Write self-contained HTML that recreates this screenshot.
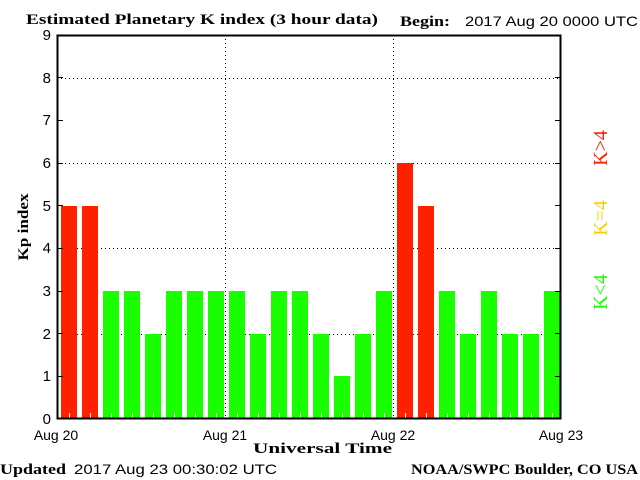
<!DOCTYPE html><html><head><style>body{margin:0;background:#fff}</style></head><body>
<svg width="640" height="480" xmlns="http://www.w3.org/2000/svg" style="display:block">
<rect width="640" height="480" fill="#fff"/>
<g stroke="#000" stroke-dasharray="1,3" stroke-width="1">
<line x1="57" x2="560" y1="78.5" y2="78.5"/><line x1="57" x2="560" y1="163.5" y2="163.5"/><line x1="57" x2="560" y1="248.5" y2="248.5"/><line x1="57" x2="560" y1="334.5" y2="334.5"/>
<line x1="225.5" x2="225.5" y1="35" y2="419"/><line x1="393.5" x2="393.5" y1="35" y2="419"/>
</g>
<g fill="#1aff00">
<rect x="103" y="291" width="16" height="128"/>
<rect x="124" y="291" width="16" height="128"/>
<rect x="145" y="334" width="16" height="85"/>
<rect x="166" y="291" width="16" height="128"/>
<rect x="187" y="291" width="16" height="128"/>
<rect x="208" y="291" width="16" height="128"/>
<rect x="229" y="291" width="16" height="128"/>
<rect x="250" y="334" width="16" height="85"/>
<rect x="271" y="291" width="16" height="128"/>
<rect x="292" y="291" width="16" height="128"/>
<rect x="313" y="334" width="16" height="85"/>
<rect x="334" y="376" width="16" height="43"/>
<rect x="355" y="334" width="16" height="85"/>
<rect x="376" y="291" width="16" height="128"/>
<rect x="439" y="291" width="16" height="128"/>
<rect x="460" y="334" width="16" height="85"/>
<rect x="481" y="291" width="16" height="128"/>
<rect x="502" y="334" width="16" height="85"/>
<rect x="523" y="334" width="16" height="85"/>
<rect x="544" y="291" width="16" height="128"/>
</g>
<g fill="#ff2000">
<rect x="61" y="206" width="16" height="213"/>
<rect x="82" y="206" width="16" height="213"/>
<rect x="397" y="163" width="16" height="256"/>
<rect x="418" y="206" width="16" height="213"/>
</g>
<g stroke="#fff" stroke-width="1">
<path d="M69.5 413V419M90.5 413V419M111.5 413V419M132.5 413V419M153.5 413V419M174.5 413V419M195.5 413V419M216.5 413V419M237.5 413V419M258.5 413V419M279.5 413V419M300.5 413V419M321.5 413V419M342.5 413V419M363.5 413V419M384.5 413V419M405.5 413V419M426.5 413V419M447.5 413V419M468.5 413V419M489.5 413V419M510.5 413V419M531.5 413V419M552.5 413V419"/>
</g>
<rect x="57.5" y="35.5" width="503" height="383" fill="none" stroke="#000" stroke-width="2"/>
<g stroke="#000" stroke-width="1">
<path d="M57 376.5H63M57 333.5H63M57 291.5H63M57 248.5H63M57 205.5H63M57 163.5H63M57 120.5H63M57 77.5H63M555 376.5H561M555 333.5H561M555 291.5H561M555 248.5H561M555 205.5H561M555 163.5H561M555 120.5H561M555 77.5H561"/>
</g>
<g font-family="Liberation Serif, serif" font-weight="bold" font-size="15">
<text x="26" y="24" textLength="352" lengthAdjust="spacingAndGlyphs">Estimated Planetary K index (3 hour data)</text>
<text x="400" y="26" textLength="50" lengthAdjust="spacingAndGlyphs">Begin:</text>
<text x="0" y="474" textLength="66" lengthAdjust="spacingAndGlyphs">Updated</text>
<text x="411" y="474" textLength="227" lengthAdjust="spacingAndGlyphs">NOAA/SWPC Boulder, CO USA</text>
<text x="253" y="453" textLength="139" lengthAdjust="spacingAndGlyphs">Universal Time</text>
<text transform="translate(28,227) rotate(-90)" text-anchor="middle" textLength="67" lengthAdjust="spacingAndGlyphs">Kp index</text>
</g>
<g font-family="Liberation Sans, sans-serif" font-size="14">
<text x="465" y="26" textLength="173" lengthAdjust="spacingAndGlyphs">2017 Aug 20 0000 UTC</text>
<text x="74" y="474" textLength="203" lengthAdjust="spacingAndGlyphs">2017 Aug 23 00:30:02 UTC</text>
<g text-anchor="middle"><text x="56" y="440">Aug 20</text><text x="225" y="440">Aug 21</text><text x="393" y="440">Aug 22</text><text x="561" y="440">Aug 23</text></g>
<g text-anchor="end" font-size="15"><text x="51" y="424">0</text><text x="51" y="381">1</text><text x="51" y="339">2</text><text x="51" y="296">3</text><text x="51" y="253">4</text><text x="51" y="211">5</text><text x="51" y="168">6</text><text x="51" y="125">7</text><text x="51" y="83">8</text><text x="51" y="40">9</text></g>
</g>
<g font-family="Liberation Serif, serif" font-size="20" text-anchor="middle">
<text transform="translate(607,148) rotate(-90)" fill="#ff2000">K&gt;4</text>
<text transform="translate(607,218) rotate(-90)" fill="#ffd000">K=4</text>
<text transform="translate(607,292) rotate(-90)" fill="#1aff00">K&lt;4</text>
</g>
</svg></body></html>
